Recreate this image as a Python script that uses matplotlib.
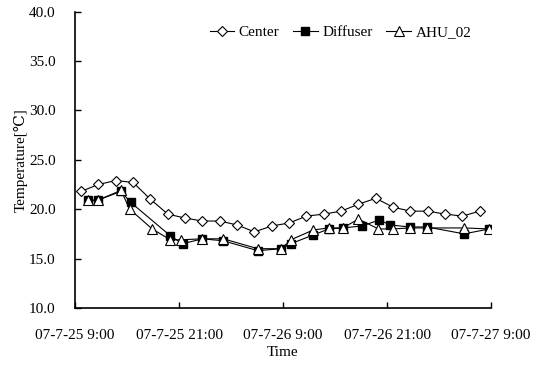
import numpy as np
import matplotlib
matplotlib.use('Agg')
import matplotlib.pyplot as plt

# hours since 07-7-25 9:00
center_t = [0.7, 2.7, 4.7, 6.7, 8.7, 10.7, 12.7, 14.7, 16.7, 18.7, 20.7, 22.7,
            24.7, 26.7, 28.7, 30.7, 32.7, 34.7, 36.7, 38.7, 40.7, 42.7, 44.7, 46.7]
center = [21.8, 22.5, 22.9, 22.7, 21.0, 19.5, 19.1, 18.8, 18.8, 18.4, 17.7, 18.3,
          18.6, 19.3, 19.5, 19.8, 20.5, 21.1, 20.2, 19.8, 19.8, 19.5, 19.3, 19.8]

diffuser_t = [1.5, 2.6, 5.3, 6.4, 11.0, 12.4, 14.7, 17.1, 21.1, 23.8, 24.9,
              27.5, 29.3, 30.9, 33.1, 35.1, 36.4, 38.6, 40.6, 44.9, 47.8]
diffuser = [20.9, 20.9, 21.8, 20.7, 17.3, 16.5, 17.0, 16.8, 15.8, 16.0, 16.5,
            17.4, 18.0, 18.1, 18.3, 18.9, 18.4, 18.2, 18.2, 17.5, 18.0]

ahu_t = [1.5, 2.6, 5.3, 6.3, 8.9, 11.0, 12.2, 14.7, 17.1, 21.1, 23.8, 24.9,
         27.5, 29.3, 30.9, 32.7, 35.0, 36.7, 38.6, 40.6, 44.9, 47.8]
ahu = [20.9, 20.9, 21.9, 20.0, 18.0, 16.9, 16.9, 17.0, 17.0, 16.0, 16.0, 16.9,
       17.9, 18.1, 18.1, 19.0, 18.0, 18.0, 18.1, 18.1, 18.1, 18.0]

xticks = [0, 12, 24, 36, 48]
xlabels = ["07-7-25 9:00", "07-7-25 21:00", "07-7-26 9:00", "07-7-26 21:00", "07-7-27 9:00"]
yticks = [10, 15, 20, 25, 30, 35, 40]

plt.rcParams['font.family'] = ['Liberation Serif', 'DejaVu Serif']
plt.rcParams['font.size'] = 11

fig = plt.figure(figsize=(5.44, 3.66), dpi=100)
ax = fig.add_axes([0.138, 0.1585, 0.7646, 0.8100])

lw = 0.8
ax.plot(center_t, center, '-', color='black', lw=lw, marker='D', ms=5,
        mfc='white', mec='black', mew=0.8, label='Center', zorder=3)
ax.plot(diffuser_t, diffuser, '-', color='black', lw=lw, marker='s', ms=5.5,
        mfc='black', mec='black', label='Diffuser', zorder=4)
ax.plot(ahu_t, ahu, '-', color='black', lw=lw, marker='^', ms=6.5,
        mfc='white', mec='black', mew=0.8, label='AHU_02', zorder=5)

ax.set_xlim(0, 48)
ax.set_ylim(10, 40)
ax.set_xticks(xticks)
ax.set_xticklabels(xlabels)
ax.set_yticks(yticks)
ax.set_yticklabels(["%.1f" % v for v in yticks])
ax.tick_params(direction='in', length=4, width=1, labelsize=11)
ax.tick_params(axis='x', pad=15)
ax.tick_params(axis='y', pad=14)

ax.spines['top'].set_visible(False)
ax.spines['right'].set_visible(False)
ax.spines['left'].set_linewidth(1.2)
ax.spines['bottom'].set_linewidth(1.2)

ax.set_xlabel("Time", fontsize=11, labelpad=3)
ax.set_ylabel("Temperature[℃]", fontsize=11, labelpad=1)

ax.legend(loc='upper center', bbox_to_anchor=(0.638, 1.0), ncol=3, frameon=False,
          handlelength=1.6, columnspacing=0.9, handletextpad=0.3, fontsize=11)

fig.savefig("out.png", dpi=100)
